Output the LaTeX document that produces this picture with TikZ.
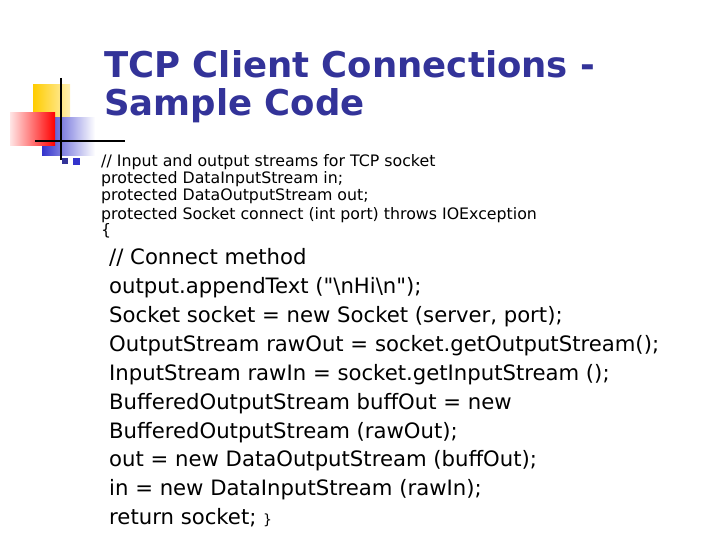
\documentclass[tikz,border=0pt]{standalone}
\usepackage{fontspec}
\newfontfamily\dv{DejaVu Sans}
\definecolor{ttl}{HTML}{333399}
\definecolor{ylw}{HTML}{FFCC00}
\definecolor{blu}{HTML}{3333CC}
\begin{document}
\begin{tikzpicture}[x=1pt,y=-1pt,
  small/.style={anchor=base west,inner sep=0pt,font=\dv\fontsize{15.8}{17}\selectfont},
  big/.style={anchor=base west,inner sep=0pt,font=\dv\fontsize{21.2}{29}\selectfont},
  ttlstyle/.style={anchor=base west,inner sep=0pt,text=ttl,font=\dv\fontsize{35.5}{46}\bfseries\selectfont}]
\useasboundingbox (0,0) rectangle (720,540);
\fill[white] (0,0) rectangle (720,540);
% logo
\shade[left color=ylw,right color=ylw!30] (33,85) rectangle (70,120);
\shade[left color=blu,right color=white] (42,118) rectangle (95,156);
\shade[left color=red!10,right color=red] (10,113) rectangle (55,146);
\draw[line width=1.2pt] (61,78) -- (61,160);
\draw[line width=1.2pt] (35,141) -- (125,141);
\fill[blu] (73,158) rectangle (80,165);
% title
\node[ttlstyle] (t1) at (104,78) {TCP Client Connections -};
\node[ttlstyle] (t2) at (104,116) {Sample Code};
% bullet
\node[fill=ttl,inner sep=0pt,minimum size=6pt] (bul) at (65,161) {};
\node[small] (s1) at (101,167) {// Input and output streams for TCP socket};
\node[small] (s2) at (101,184) {protected DataInputStream in;};
\node[small] (s3) at (101,201) {protected DataOutputStream out;};
\node[small] (s4) at (101,219) {protected Socket connect (int port) throws IOException};
\node[small] (s5) at (101,236) {\{};
\node[big] (b1) at (109,264) {// Connect method};
\node[big] (b2) at (109,293) {output.appendText ("\textbackslash nHi\textbackslash n");};
\node[big] (b3) at (109,322) {Socket socket = new Socket (server, port);};
\node[big] (b4) at (109,351) {OutputStream rawOut = socket.getOutputStream();};
\node[big] (b5) at (109,380) {InputStream rawIn = socket.getInputStream ();};
\node[big] (b6) at (109,409) {BufferedOutputStream buffOut = new};
\node[big] (b7) at (109,438) {BufferedOutputStream (rawOut);};
\node[big] (b8) at (109,466) {out = new DataOutputStream (buffOut);};
\node[big] (b9) at (109,495) {in = new DataInputStream (rawIn);};
\node[big] (b10) at (109,524) {return socket;\ {\fontsize{14}{16}\selectfont\}}};
\end{tikzpicture}
\end{document}
